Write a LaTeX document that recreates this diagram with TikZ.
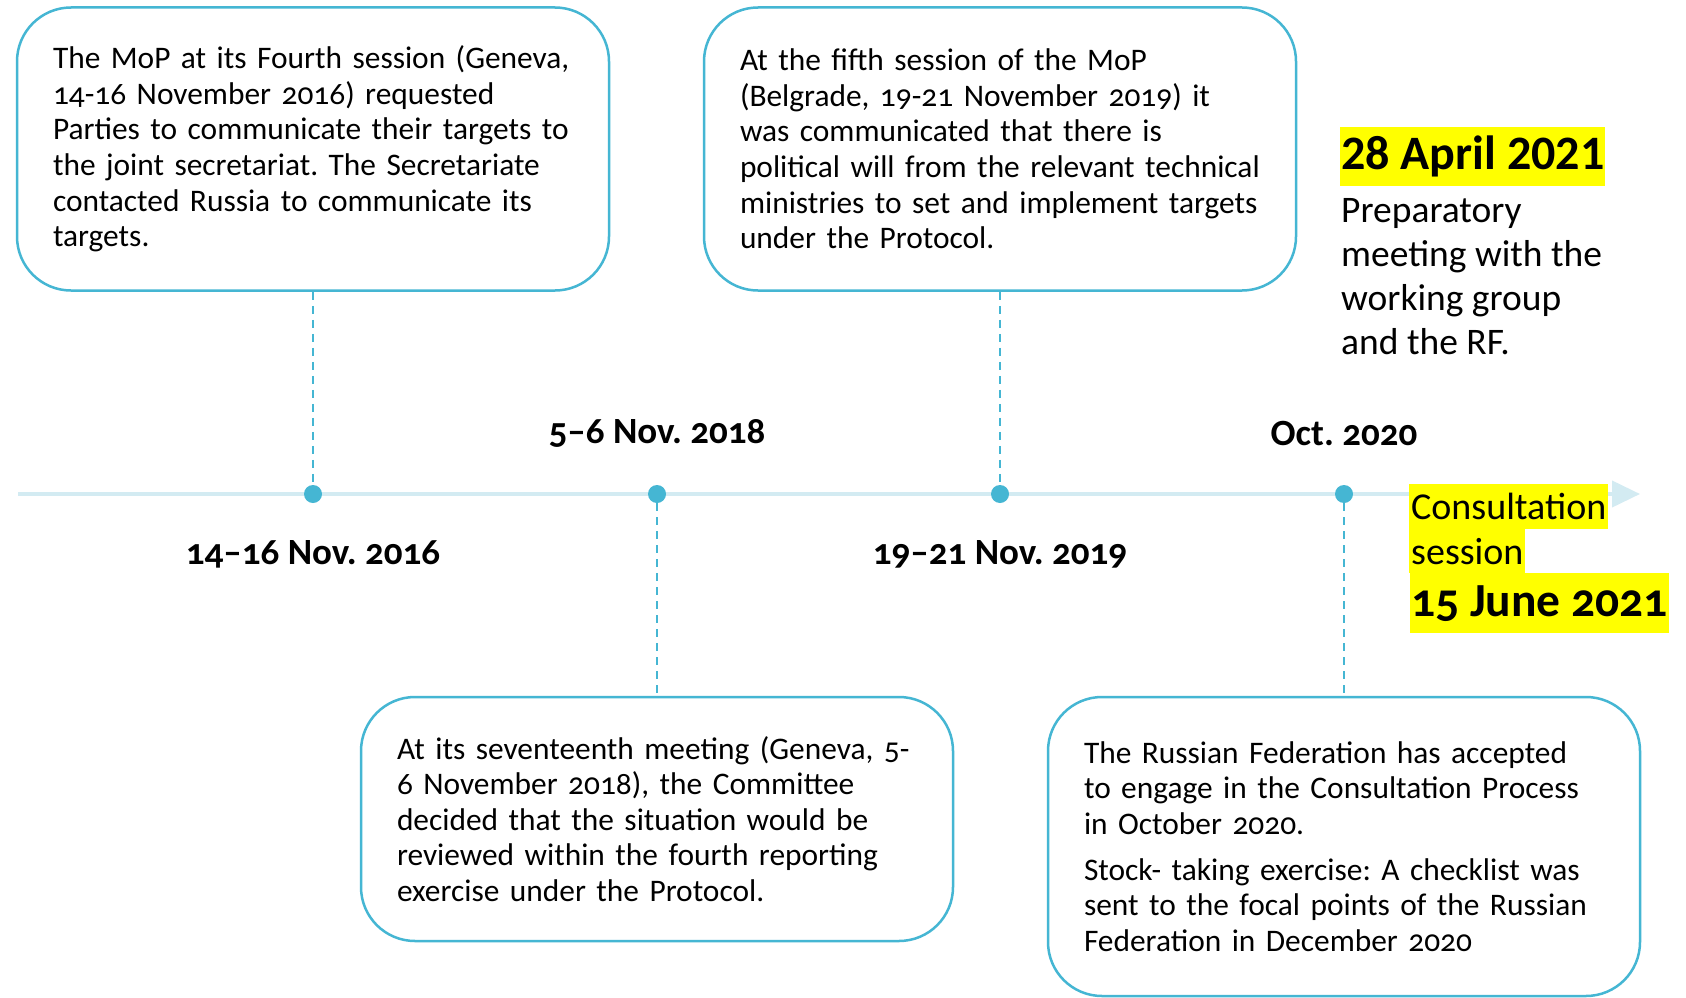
\documentclass[tikz,border=0pt]{standalone}
\usepackage{fontspec}
\setmainfont[Numbers=OldStyle]{Carlito}
\newfontfamily\liningfont{Carlito}
\usetikzlibrary{arrows.meta}
\definecolor{boxblue}{HTML}{45B6D3}
\definecolor{linelight}{HTML}{D3EBF2}
\definecolor{hl}{HTML}{FFFF00}
\frenchspacing
\begin{document}
\begin{tikzpicture}[x=1pt,y=-1pt,
  event/.style={draw=boxblue, line width=2.5pt, rounded corners=54pt, fill=white,
    text width=520pt, align=left, inner xsep=36pt, inner ysep=0pt,
    font=\fontsize{31.4}{35.6}\selectfont},
  dot/.style={circle, fill=boxblue, inner sep=0pt, minimum size=18pt},
  conn/.style={draw=boxblue, line width=1.8pt, dash pattern=on 8pt off 6pt},
  datelabel/.style={font=\fontsize{37}{44}\selectfont\bfseries, inner sep=0pt},
  hlbox/.style={fill=hl, inner xsep=1pt, inner ysep=0pt, anchor=north west, align=left},
  sidetext/.style={font=\fontsize{37.5}{44}\selectfont, inner sep=0pt, align=left, anchor=north west}
]
\useasboundingbox (0,0) rectangle (1686,998);
\fill[white] (0,0) rectangle (1686,998);

% timeline
\coordinate (tl0) at (18,494);
\coordinate (tl1) at (1640,494);
\draw[linelight, line width=4pt, -{Triangle[length=28pt,width=26pt]}] (tl0) -- (tl1);

% boxes
\node[event, minimum height=283pt] (b1) at (313,149) {The MoP at its Fourth session (Geneva,\\ 14-16 November 2016) requested\\ Parties to communicate their targets to\\ the joint secretariat. The Secretariate\\ contacted Russia to communicate its\\ targets.};
\node[event, minimum height=283pt] (b2) at (1000,149) {At the fifth session of the MoP\\ (Belgrade, 19-21 November 2019) it\\ was communicated that there is\\ political will from the relevant technical\\ ministries to set and implement targets\\ under the Protocol.};
\node[event, minimum height=244pt] (b3) at (657,819) {At its seventeenth meeting (Geneva, 5-\\ 6 November 2018), the Committee\\ decided that the situation would be\\ reviewed within the fourth reporting\\ exercise under the Protocol.};
\node[event, minimum height=299pt] (b4) at (1344,846.5) {The Russian Federation has accepted\\ to engage in the Consultation Process\\ in October 2020.\\[10pt] Stock- taking exercise: A checklist was\\ sent to the focal points of the Russian\\ Federation in December 2020};

% dots
\node[dot] (d1) at (313,494) {};
\node[dot] (d2) at (657,494) {};
\node[dot] (d3) at (1000,494) {};
\node[dot] (d4) at (1344,494) {};

% connectors
\draw[conn] (b1.south) -- (d1.north);
\draw[conn] (d2.south) -- (b3.north);
\draw[conn] (b2.south) -- (d3.north);
\draw[conn] (d4.south) -- (b4.north);

% date labels
\node[datelabel] (l2) at (657,433.5) {5\textendash 6 Nov. 2018};
\node[datelabel] (l4) at (1344,433.5) {Oct. 2020};
\node[datelabel] (l1) at (313,554) {14\textendash 16 Nov. 2016};
\node[datelabel] (l3) at (1000,554) {19\textendash 21 Nov. 2019};

% right side
\node[hlbox, minimum height=59pt, font=\fontsize{48}{55}\selectfont\bfseries\liningfont] (apr) at (1340,127) {28 April 2021};
\node[sidetext] (prep) at (1341,198) {Preparatory\\ meeting with the\\ working group\\ and the RF.};

\node[hlbox, minimum height=45pt, font=\fontsize{38}{44}\selectfont, inner xsep=2pt] (cons1) at (1409,484) {Consultation};
\node[hlbox, minimum height=44pt, font=\fontsize{38}{44}\selectfont, inner xsep=2pt] (cons2) at (1409,529) {session};
\node[hlbox, minimum height=60pt, font=\fontsize{47.5}{55}\selectfont\bfseries] (cons3) at (1410,573) {15 June 2021};
\end{tikzpicture}
\end{document}
